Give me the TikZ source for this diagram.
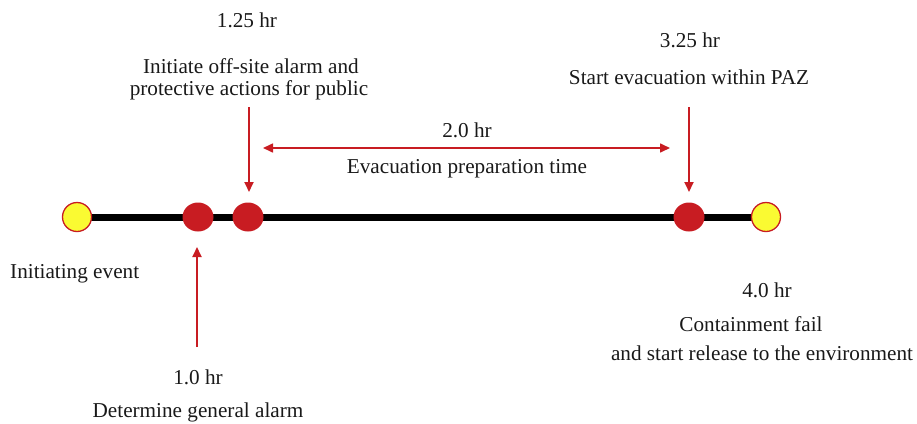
\documentclass[tikz,border=0pt]{standalone}
\usepackage{fontspec}
\setmainfont{Liberation Serif}
\usetikzlibrary{arrows.meta,shapes.geometric}
\definecolor{tred}{RGB}{200,28,34}
\definecolor{tyel}{RGB}{250,250,50}
\begin{document}
\begin{tikzpicture}[x=1pt,y=-1pt,
  lbl/.style={font=\fontsize{21.2}{23}\selectfont, text=black!90, inner sep=0pt, align=center},
  ydot/.style={circle,draw=tred,line width=1.3pt,fill=tyel,minimum size=29pt,inner sep=0pt},
  rdot/.style={ellipse,fill=tred,minimum width=31pt,minimum height=29pt,inner sep=0pt},
  rarr/.style={draw=tred,line width=1.8pt,-{Triangle[length=10pt,width=9pt]}},
  darr/.style={draw=tred,line width=1.6pt,{Triangle[length=10pt,width=9pt]}-{Triangle[length=10pt,width=9pt]}},
  tline/.style={draw=black,line width=7pt}
  ]
\useasboundingbox (0,0) rectangle (917,423);
% timeline
\coordinate (L) at (77,217);
\coordinate (R) at (766,217);
\draw[tline] (L) -- (R);
\node[ydot] (y1) at (L) {};
\node[ydot] (y2) at (R) {};
\node[rdot] (r1) at (198,217) {};
\node[rdot] (r2) at (248,217) {};
\node[rdot] (r3) at (689,217) {};
% texts
\node[lbl] (t125) at (247,20) {1.25 hr};
\node[lbl] (ti1) at (251,66) {Initiate off-site alarm and};
\node[lbl] (ti2) at (249,90) {protective actions for public};
\node[lbl] (t325) at (690,40) {3.25 hr};
\node[lbl] (tst) at (689,77) {Start evacuation within PAZ};
\node[lbl] (t20) at (467,130) {2.0 hr};
\node[lbl] (tev) at (467,169) {Evacuation preparation time};
\node[lbl,anchor=west] (tie) at (10,274) {Initiating event};
\node[lbl] (t40) at (767,290) {4.0 hr};
\node[lbl] (tc) at (751,324) {Containment fail};
\node[lbl] (trel) at (762,353) {and start release to the environment};
\node[lbl] (t10) at (198,377) {1.0 hr};
\node[lbl] (tdet) at (198,412) {Determine general alarm};
% arrows
\coordinate (a1s) at (249,107);
\coordinate (a1e) at (249,192);
\coordinate (a2s) at (689,107);
\coordinate (a2e) at (689,192);
\coordinate (a3s) at (197,347);
\coordinate (a3e) at (197,247);
\coordinate (hl) at (263,148);
\coordinate (hr) at (670,148);
\draw[rarr] (a1s) -- (a1e);
\draw[rarr] (a2s) -- (a2e);
\draw[rarr] (a3s) -- (a3e);
\draw[darr] (hl) -- (hr);
\end{tikzpicture}
\end{document}
